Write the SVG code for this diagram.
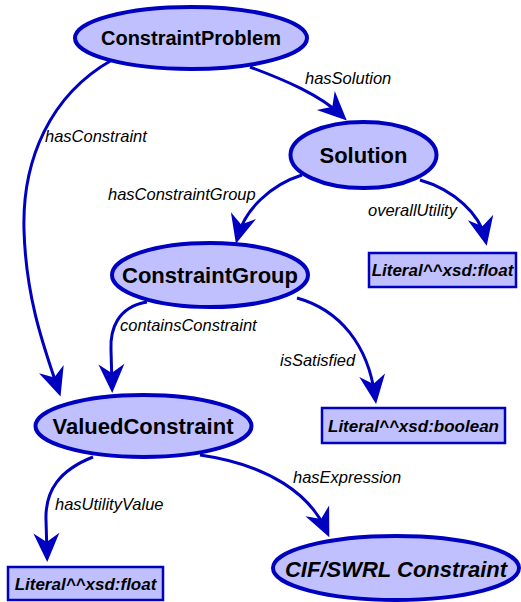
<svg xmlns="http://www.w3.org/2000/svg" width="521" height="602" viewBox="0 0 521 602">
<style>
.node ellipse{fill:#c0c0ff;stroke:#0000c0;stroke-width:4}
.node rect{fill:#c0c0ff;stroke:#0000c0;stroke-width:2.5}
.nl{font-family:"Liberation Sans",Arial,sans-serif;font-weight:bold;fill:#000;text-anchor:middle}
.lit{font-family:"Liberation Sans",Arial,sans-serif;font-weight:bold;font-style:italic;font-size:17px;fill:#000;text-anchor:middle}
.edges path{fill:none;stroke:#0000c0;stroke-width:3;marker-end:url(#ah)}
.el{font-family:"Liberation Sans",Arial,sans-serif;font-style:italic;font-size:16.5px;fill:#000}
</style>
<defs>
<marker id="ah" markerUnits="userSpaceOnUse" markerWidth="50" markerHeight="50" viewBox="-25 -25 50 50" refX="0" refY="0" orient="auto">
<path d="M8,0 L-21,-13 L-12,0 L-21,13 Z" fill="#0000c0" stroke="none"/>
</marker>
</defs>
<g id="edges" class="edges">
<path d="M250,67 C285,80 320,95 341,115"/>
<path d="M112,60 C50,95 22,160 24,230 C26,300 45,350 58,389"/>
<path d="M302,175 C270,185 245,210 238,236"/>
<path d="M420,180 C455,190 480,215 485,238"/>
<path d="M147,302 C117,307 110,330 111,350 L112,385"/>
<path d="M297,298 C340,310 368,345 375,396"/>
<path d="M93,457 C60,470 45,490 46,520 L47,554"/>
<path d="M200,455 C270,465 310,495 326,530"/>
</g>
<g id="edge-labels">
<text class="el" x="305" y="84">hasSolution</text>
<text class="el" x="45" y="142">hasConstraint</text>
<text class="el" x="108" y="200">hasConstraintGroup</text>
<text class="el" x="368" y="216">overallUtility</text>
<text class="el" x="120" y="331">containsConstraint</text>
<text class="el" x="280" y="366">isSatisfied</text>
<text class="el" x="55" y="510">hasUtilityValue</text>
<text class="el" x="293" y="483">hasExpression</text>
</g>
<g id="ConstraintProblem" class="node">
<ellipse cx="191" cy="38" rx="116" ry="31"/>
<text class="nl" x="191" y="45" font-size="20">ConstraintProblem</text>
</g>
<g id="Solution" class="node">
<ellipse cx="363.5" cy="155" rx="73" ry="33"/>
<text class="nl" x="363.5" y="163" font-size="22">Solution</text>
</g>
<g id="ConstraintGroup" class="node">
<ellipse cx="210" cy="275" rx="98" ry="32"/>
<text class="nl" x="210" y="283" font-size="22">ConstraintGroup</text>
</g>
<g id="ValuedConstraint" class="node">
<ellipse cx="143.5" cy="426" rx="108" ry="31"/>
<text class="nl" x="143" y="434" font-size="22">ValuedConstraint</text>
</g>
<g id="CIFSWRLConstraint" class="node">
<ellipse cx="396" cy="568" rx="123" ry="32"/>
<text class="nl" x="396" y="577" font-size="22" font-style="italic">CIF/SWRL Constraint</text>
</g>
<g id="LiteralFloat1" class="node">
<rect x="369" y="253" width="147" height="34"/>
<text class="lit" x="442.5" y="276">Literal^^xsd:float</text>
</g>
<g id="LiteralBoolean" class="node">
<rect x="322" y="408" width="183" height="35"/>
<text class="lit" x="413.5" y="432">Literal^^xsd:boolean</text>
</g>
<g id="LiteralFloat2" class="node">
<rect x="8" y="567" width="155" height="33"/>
<text class="lit" x="85.5" y="590">Literal^^xsd:float</text>
</g>
</svg>
